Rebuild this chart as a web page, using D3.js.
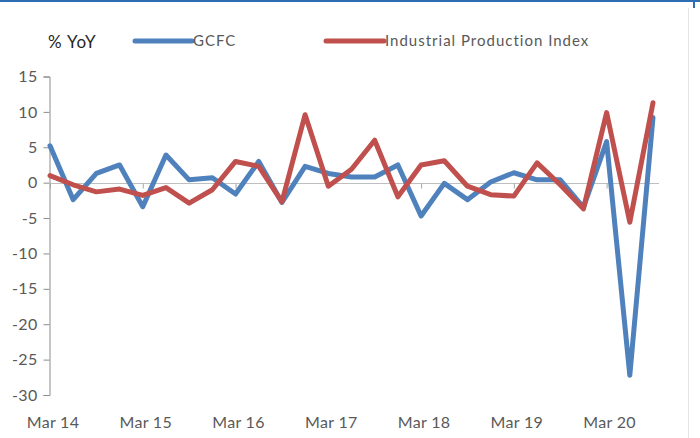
<!DOCTYPE html>
<html>
<head>
<meta charset="utf-8">
<script src="https://cdn.jsdelivr.net/npm/d3@7"></script>
<style>
  html, body { margin: 0; padding: 0; background: #fff; }
  svg { display: block; }
  text { font-family: Lato, "Open Sans", sans-serif; }
</style>
</head>
<body>
<svg id="chart" width="700" height="438"></svg>
<script>
// Quarterly year-on-year growth, Mar 2014 to Sep 2020
const quarters = [
  "Mar 14","Jun 14","Sep 14","Dec 14",
  "Mar 15","Jun 15","Sep 15","Dec 15",
  "Mar 16","Jun 16","Sep 16","Dec 16",
  "Mar 17","Jun 17","Sep 17","Dec 17",
  "Mar 18","Jun 18","Sep 18","Dec 18",
  "Mar 19","Jun 19","Sep 19","Dec 19",
  "Mar 20","Jun 20","Sep 20"
];
const gcfc = [
  5.2, -2.4, 1.3, 2.5, -3.4, 3.9, 0.4, 0.7,
  -1.6, 3.0, -2.8, 2.3, 1.3, 0.8, 0.8, 2.5,
  -4.7, -0.1, -2.4, 0.1, 1.4, 0.4, 0.4, -3.5,
  5.8, -27.2, 9.2
];
const iip = [
  1.0, -0.3, -1.3, -0.9, -1.8, -0.7, -2.9, -1.0,
  3.0, 2.3, -2.7, 9.6, -0.5, 1.9, 6.0, -2.0,
  2.5, 3.1, -0.5, -1.7, -1.9, 2.8, -0.3, -3.7,
  9.9, -5.6, 11.3
];
const yTicks = [15, 10, 5, 0, -5, -10, -15, -20, -25, -30];
const xLabels = ["Mar 14","Mar 15","Mar 16","Mar 17","Mar 18","Mar 19","Mar 20"];

const series = [
  { name: "GCFC", values: gcfc, color: "#4F81BD" },
  { name: "Industrial Production Index", values: iip, color: "#C0504D" }
];

const svg = d3.select("#chart");

// frame accents
svg.append("line").attr("x1", 0).attr("x2", 700).attr("y1", 1).attr("y2", 1)
  .attr("stroke", "#2E6DB4").attr("stroke-width", 2);
svg.append("line").attr("x1", 694).attr("x2", 694).attr("y1", 0).attr("y2", 8)
  .attr("stroke", "#2E6DB4").attr("stroke-width", 2);
svg.append("line").attr("x1", 688.5).attr("x2", 688.5).attr("y1", 8).attr("y2", 438)
  .attr("stroke", "#E4E4E4").attr("stroke-width", 1);

const x = d3.scalePoint().domain(quarters).range([50, 653]);
const y = d3.scaleLinear().domain([-30, 15]).range([395, 76.5]);

// y axis
const yAxis = d3.axisLeft(y).tickValues(yTicks).tickSize(6).tickPadding(6).tickFormat(d3.format("d"));
const gy = svg.append("g").attr("transform", "translate(49.5,0)").call(yAxis);
gy.select(".domain").attr("stroke", "#8C8C8C");
gy.selectAll(".tick line").attr("stroke", "#8C8C8C");
gy.selectAll(".tick text").attr("fill", "#595959").style("font-size", "16px")
  .style("letter-spacing", "0.3px")
  .text(d => d < 0 ? "-" + Math.abs(d) : d);

// zero baseline with year ticks
const xAxis = d3.axisBottom(x).tickValues(xLabels).tickSize(5).tickFormat("");
const gx = svg.append("g").attr("transform", `translate(0,${Math.round(y(0)) + 0.5})`).call(xAxis);
gx.select(".domain").attr("stroke", "#BFBFBF").attr("d", `M49.5,0H659`);
gx.selectAll(".tick line").attr("stroke", "#A6A6A6");

// category labels along the bottom
svg.append("g").selectAll("text").data(xLabels).join("text")
  .attr("x", d => x(d) + 3).attr("y", 428)
  .attr("text-anchor", "middle")
  .attr("fill", "#595959").style("font-size", "16px").style("letter-spacing", "0.3px")
  .text(d => d);

// lines
const line = d3.line().x((d, i) => x(quarters[i])).y(d => y(d));
series.forEach(s => {
  svg.append("path").datum(s.values)
    .attr("fill", "none").attr("stroke", s.color).attr("stroke-width", 5)
    .attr("stroke-linejoin", "round").attr("stroke-linecap", "round")
    .attr("d", line);
});

// legend
svg.append("text").attr("x", 48).attr("y", 48).attr("fill", "#262626")
  .style("font-size", "17px").style("letter-spacing", "0.8px").text("% YoY");
const legendPos = [{ lx: 135, tx: 193 }, { lx: 326, tx: 385 }];
series.forEach((s, i) => {
  const p = legendPos[i];
  svg.append("line").attr("x1", p.lx).attr("x2", p.tx - 1).attr("y1", 41).attr("y2", 41)
    .attr("stroke", s.color).attr("stroke-width", 5).attr("stroke-linecap", "round");
  svg.append("text").attr("x", p.tx).attr("y", 46).attr("fill", "#595959")
    .style("font-size", "15px").style("letter-spacing", "1px").text(s.name);
});
</script>
</body>
</html>
